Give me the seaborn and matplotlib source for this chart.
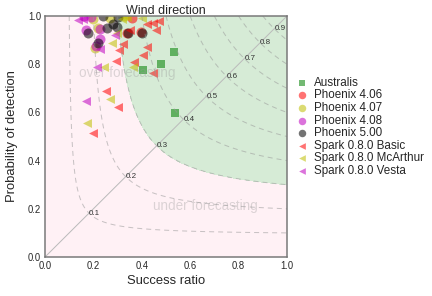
import numpy as np
import pandas as pd
import matplotlib
matplotlib.use("Agg")
import matplotlib.pyplot as plt
import seaborn as sns

# Success ratio / probability of detection per model
australis_sr = [0.533, 0.479, 0.405, 0.537]
australis_pod = [0.849, 0.800, 0.776, 0.599]

phx406_sr = [0.340, 0.398, 0.36]
phx406_pod = [0.930, 0.935, 0.99]

phx407_sr = [0.207, 0.200, 0.33, 0.27, 0.22]
phx407_pod = [0.866, 0.988, 1.0, 0.99, 0.95]

phx408_sr = [0.210, 0.227, 0.19, 0.227, 0.16, 0.17]
phx408_pod = [0.875, 0.905, 0.995, 0.945, 1.0, 0.94]

phx500_sr = [0.179, 0.220, 0.255, 0.296, 0.344, 0.400, 0.282, 0.24, 0.30]
phx500_pod = [0.928, 0.889, 0.949, 0.956, 0.928, 0.931, 0.965, 1.0, 0.995]

basic_sr = [0.472, 0.448, 0.420, 0.457, 0.423, 0.307, 0.406, 0.293, 0.369,
            0.448, 0.252, 0.303, 0.200, 0.324, 0.351]
basic_pod = [0.979, 0.972, 0.967, 0.942, 0.873, 0.859, 0.838, 0.813, 0.808,
             0.765, 0.689, 0.624, 0.513, 0.884, 0.942]

mcarthur_sr = [0.269, 0.172, 0.276, 0.245, 0.365, 0.296, 0.317, 0.40, 0.34]
mcarthur_pod = [0.654, 0.557, 0.887, 0.790, 0.790, 0.928, 0.988, 0.99, 0.995]

vesta_sr = [0.213, 0.169, 0.227, 0.138, 0.158, 0.29]
vesta_pod = [0.787, 0.649, 0.862, 0.983, 0.988, 0.92]

models = ["Australis", "Phoenix 4.06", "Phoenix 4.07", "Phoenix 4.08",
          "Phoenix 5.00", "Spark 0.8.0 Basic", "Spark 0.8.0 McArthur",
          "Spark 0.8.0 Vesta"]
model_sr = [australis_sr, phx406_sr, phx407_sr, phx408_sr, phx500_sr,
            basic_sr, mcarthur_sr, vesta_sr]
model_pod = [australis_pod, phx406_pod, phx407_pod, phx408_pod, phx500_pod,
             basic_pod, mcarthur_pod, vesta_pod]
model_colors = ["g", "r", "y", "m", "k", "r", "y", "m"]
model_markers = ["s", "o", "o", "o", "o", "<", "<", "<"]
model_sizes = [70, 100, 100, 100, 100, 80, 80, 80]

csi_levels = [0.1, 0.2, 0.3, 0.4, 0.5, 0.6, 0.7, 0.8, 0.9]

sns.set_style("white")
plt.rcParams['font.family'] = ['Liberation Sans', 'DejaVu Sans']

fig = plt.figure(figsize=(6, 296 / 72), dpi=72)
ax = fig.add_axes([45 / 432, 39 / 296, 242 / 432, 241 / 296])
ax.set_facecolor('#fff1f5')

# CSI background
g = np.linspace(0.001, 1, 500)
SR, POD = np.meshgrid(g, g)
CSI = 1.0 / (1.0 / SR + 1.0 / POD - 1.0)
ax.contourf(SR, POD, CSI, levels=[0.3, 1.01], colors=['#d6ebd6'])
ax.contour(SR, POD, CSI, levels=csi_levels, colors='#999999', alpha=0.55,
           linewidths=1, linestyles=[(0, (5, 4))])
ax.plot([0, 1], [0, 1], color='#bbbbbb', lw=1)
for c in csi_levels:
    p = 2 * c / (1 + c)
    ax.text(p, p, f'{c:.1f}', fontsize=8, color='#333333', ha='left', va='center')

ax.text(0.34, 0.763, 'over forecasting', fontsize=13.5, color='#999999', alpha=0.35,
        ha='center', va='center')
ax.text(0.663, 0.212, 'under forecasting', fontsize=13.5, color='#999999', alpha=0.35,
        ha='center', va='center')

for name, xs, ys, col, mk, sz in zip(models, model_sr, model_pod, model_colors,
                                     model_markers, model_sizes):
    df = pd.DataFrame({'sr': xs, 'pod': ys})
    sns.scatterplot(data=df, x='sr', y='pod', color=col, marker=mk, s=sz,
                    alpha=0.55, linewidth=0, ax=ax, label=name)

ax.set_xlim(0, 1)
ax.set_ylim(0, 1)
ax.set_xticks([0, 0.2, 0.4, 0.6, 0.8, 1.0])
ax.set_yticks([0, 0.2, 0.4, 0.6, 0.8, 1.0])
ax.tick_params(labelsize=9.5, length=0, pad=4)
ax.set_xlabel('Success ratio', fontsize=13)
ax.set_ylabel('Probability of detection', fontsize=13, labelpad=10)
ax.set_title('Wind direction', fontsize=12.5, pad=2)
for sp in ax.spines.values():
    sp.set_color('#777777')
    sp.set_linewidth(1.5)

ax.legend(loc='center left', bbox_to_anchor=(0.99, 0.54), frameon=False,
          fontsize=11.6, labelspacing=0.05, handletextpad=0.05, borderpad=0,
          markerscale=0.75)

fig.savefig('out.png', dpi=72)
